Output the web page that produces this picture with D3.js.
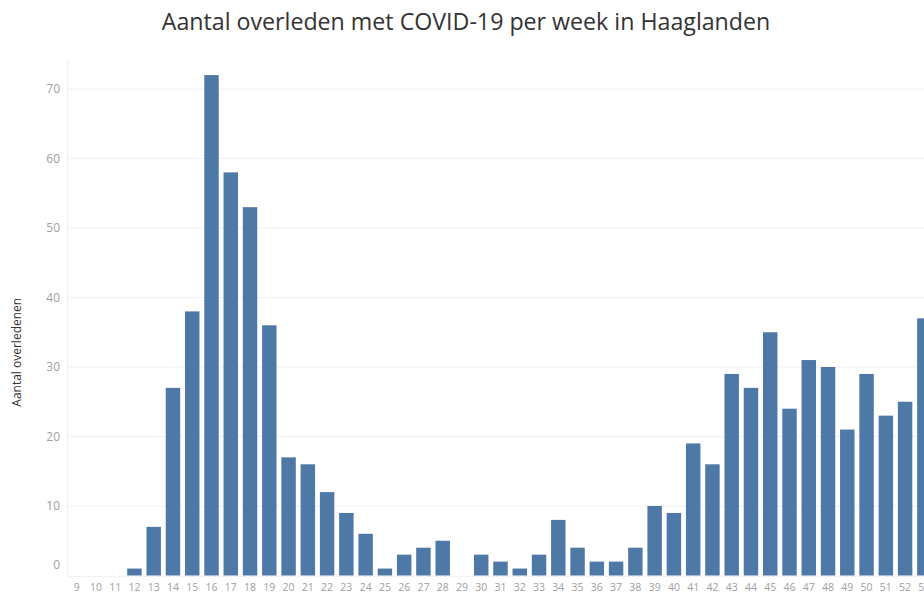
<!DOCTYPE html>
<html>
<head>
<meta charset="utf-8">
<script src="https://cdn.jsdelivr.net/npm/d3@7"></script>
<style>
  html, body { margin: 0; padding: 0; background: #fff; }
  svg { display: block; }
</style>
</head>
<body>
<svg id="chart" width="924" height="594"></svg>
<script>
const weeks = [9,10,11,12,13,14,15,16,17,18,19,20,21,22,23,24,25,26,27,28,29,30,31,32,33,34,35,36,37,38,39,40,41,42,43,44,45,46,47,48,49,50,51,52,53];
const deaths = [0,0,0,1,7,27,38,72,58,53,36,17,16,12,9,6,1,3,4,5,0,3,2,1,3,8,4,2,2,4,10,9,19,16,29,27,35,24,31,30,21,29,23,25,37];
const yTicks = [0,10,20,30,40,50,60,70];
const titleText = "Aantal overleden met COVID-19 per week in Haaglanden";
const yTitle = "Aantal overledenen";

const svg = d3.select("#chart");
const plotLeft = 67, plotRight = 934, plotTop = 89, plotBottom = 575.5;

const x = d3.scaleBand().domain(weeks).range([plotLeft, plotRight]).paddingInner(0.25).paddingOuter(0.125);
const y = d3.scaleLinear().domain([0, 70]).range([plotBottom, plotTop]);

// gridlines
svg.append("g").selectAll("line").data(yTicks.filter(d => d > 0)).join("line")
  .attr("x1", plotLeft).attr("x2", 924)
  .attr("y1", d => y(d)).attr("y2", d => y(d))
  .attr("stroke", "#f0f0f0").attr("stroke-width", 1);
// axis lines
svg.append("line").attr("x1", plotLeft + 0.5).attr("x2", plotLeft + 0.5).attr("y1", 60).attr("y2", plotBottom)
  .attr("stroke", "#f2f2f2");
svg.append("line").attr("x1", plotLeft).attr("x2", 924).attr("y1", plotBottom + 1).attr("y2", plotBottom + 1)
  .attr("stroke", "#f2f2f2");

// bars
svg.append("g").selectAll("rect").data(weeks).join("rect")
  .attr("x", d => x(d))
  .attr("width", x.bandwidth())
  .attr("y", (d, i) => y(deaths[i]))
  .attr("height", (d, i) => plotBottom - y(deaths[i]))
  .attr("fill", "#4e79a7");

// y axis labels
const yAxis = d3.axisLeft(y).tickValues(yTicks).tickSize(0).tickPadding(0);
const yg = svg.append("g").attr("transform", `translate(${plotLeft - 7},0)`).call(yAxis);
yg.select(".domain").remove();
yg.selectAll("text")
  .attr("fill", "#a0a0a0").attr("font-family", "Open Sans, sans-serif").attr("font-size", 12)
  .attr("dy", d => d === 0 ? "-0.6em" : "0.32em");

// x axis labels
const xAxis = d3.axisBottom(x).tickSize(0).tickPadding(0);
const xg = svg.append("g").attr("transform", `translate(0,${plotBottom + 8})`).call(xAxis);
xg.select(".domain").remove();
xg.selectAll("text")
  .attr("fill", "#a0a0a0").attr("font-family", "Open Sans, sans-serif").attr("font-size", 10.5)
  .attr("dy", "0.71em");

// y title
svg.append("text")
  .attr("transform", `translate(21,${(plotTop + plotBottom) / 2 + 20}) rotate(-90)`)
  .attr("text-anchor", "middle")
  .attr("font-family", "Open Sans, sans-serif").attr("font-size", 12).attr("fill", "#333")
  .text(yTitle);

// title
svg.append("text")
  .attr("x", 466).attr("y", 30)
  .attr("text-anchor", "middle")
  .attr("font-family", "Open Sans, sans-serif").attr("font-size", 23.2).attr("fill", "#333")
  .text(titleText);
</script>
</body>
</html>
